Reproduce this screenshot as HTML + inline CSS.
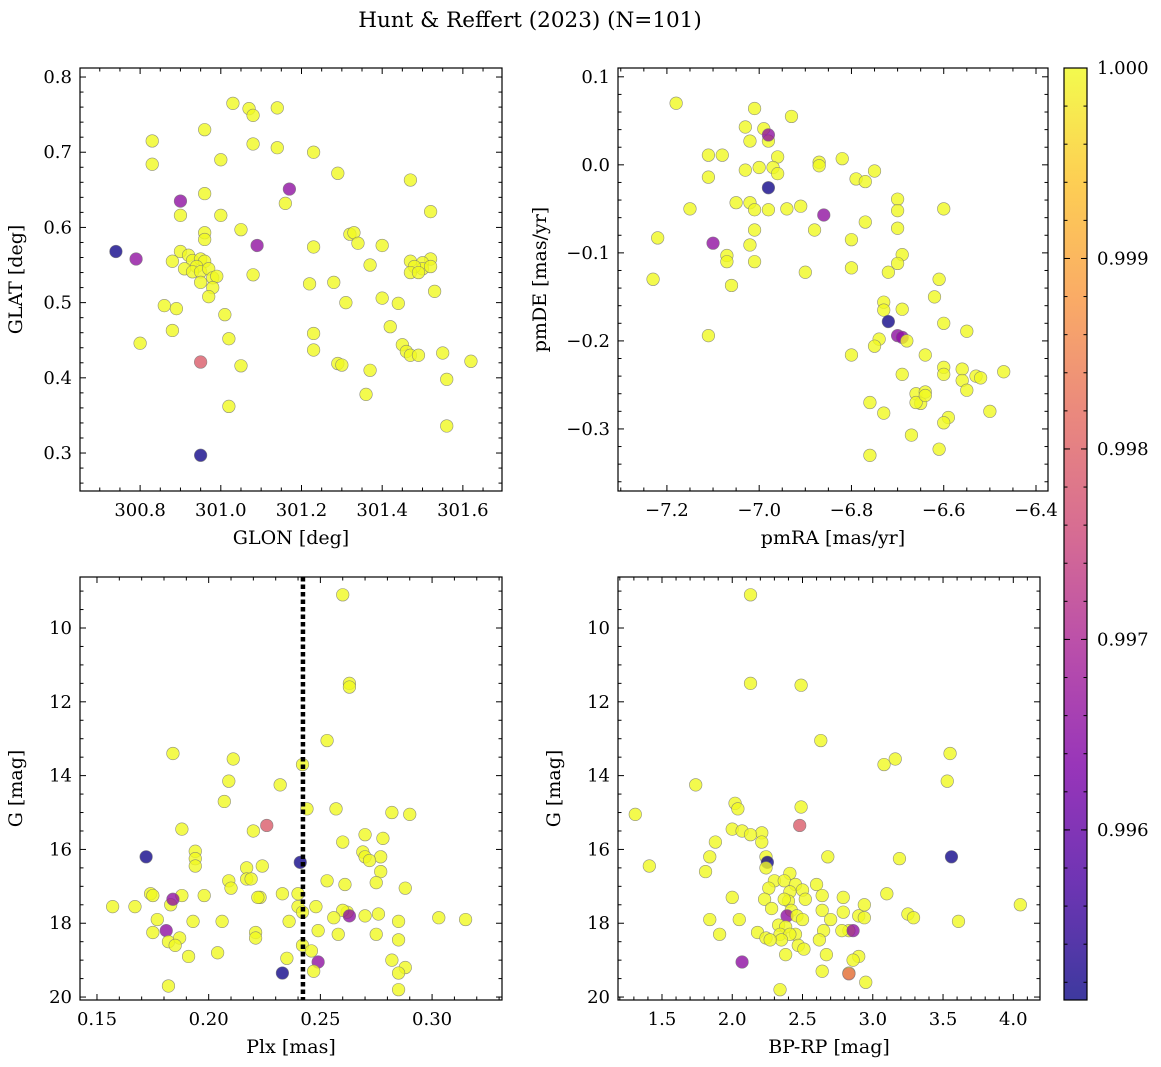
<!DOCTYPE html>
<html><head><meta charset="utf-8"><style>
body{margin:0;background:#fff;}
svg{display:block;font-family:"DejaVu Serif","Liberation Serif",serif;}
</style></head><body>
<svg id="fig" width="1161" height="1067" viewBox="0 0 1161 1067" xmlns="http://www.w3.org/2000/svg">
<text x="530" y="27" text-anchor="middle" font-size="21.5">Hunt &amp; Reffert (2023) (N=101)</text>
<defs><linearGradient id="cmap" x1="0" y1="1" x2="0" y2="0">
<stop offset="0" stop-color="#0d0887"/><stop offset="0.13" stop-color="#4c02a1"/><stop offset="0.25" stop-color="#7e03a8"/><stop offset="0.38" stop-color="#a92395"/><stop offset="0.5" stop-color="#cc4778"/><stop offset="0.63" stop-color="#e56b5d"/><stop offset="0.75" stop-color="#f89540"/><stop offset="0.88" stop-color="#fdc328"/><stop offset="1" stop-color="#f0f921"/></linearGradient></defs>
</svg>
<script>
// ---- data ----
const glon=[301.03,301.07,301.08,301.14,300.96,300.83,301.08,301.14,301.23,301.0,300.83,301.29,301.47,301.17,300.96,300.90,301.16,301.52,300.90,301.0,301.05,300.96,300.96,301.32,301.33,301.09,301.34,301.40,301.23,300.74,300.79,300.90,300.92,300.93,300.95,300.96,300.94,300.91,300.93,300.95,300.97,300.98,300.99,300.95,300.88,300.98,301.52,301.50,301.50,301.47,301.48,301.47,301.49,301.52,301.53,301.22,301.28,301.08,301.37,300.86,300.89,300.97,301.31,301.40,301.44,301.01,301.42,300.88,301.02,301.23,301.23,300.80,301.45,301.46,301.47,301.49,301.55,301.62,300.95,301.05,301.29,301.30,301.37,301.56,301.36,301.02,301.56,300.95];
const glat=[0.765,0.758,0.749,0.759,0.73,0.715,0.711,0.706,0.70,0.69,0.684,0.672,0.663,0.651,0.645,0.635,0.632,0.621,0.616,0.616,0.597,0.593,0.584,0.591,0.593,0.576,0.579,0.576,0.574,0.568,0.558,0.568,0.563,0.556,0.558,0.555,0.548,0.545,0.541,0.541,0.545,0.533,0.535,0.527,0.555,0.52,0.558,0.553,0.545,0.555,0.548,0.540,0.54,0.548,0.515,0.525,0.527,0.537,0.55,0.496,0.492,0.508,0.50,0.506,0.499,0.484,0.468,0.463,0.452,0.459,0.437,0.446,0.444,0.435,0.43,0.43,0.433,0.422,0.421,0.416,0.419,0.417,0.41,0.398,0.378,0.362,0.336,0.297];
const cTL=[1,1,1,1,1,1,1,1,1,1,1,1,1,0.99658,1,0.99658,1,1,1,1,1,1,1,1,1,0.9966,1,1,1,0.99515,0.9966,1,1,1,1,1,1,1,1,1,1,1,1,1,1,1,1,1,1,1,1,1,1,1,1,1,1,1,1,1,1,1,1,1,1,1,1,1,1,1,1,1,1,1,1,1,1,1,0.9979,1,1,1,1,1,1,1,1,0.99515];
const pmra=[-7.18,-7.01,-6.93,-7.03,-7.02,-6.99,-6.98,-6.98,-7.11,-7.08,-6.96,-6.82,-6.87,-6.87,-7.03,-7.0,-6.97,-6.96,-7.11,-6.75,-6.79,-6.77,-6.98,-7.05,-7.02,-7.15,-7.01,-6.98,-6.94,-6.91,-6.70,-6.70,-6.60,-6.86,-6.77,-7.01,-6.88,-6.70,-7.22,-6.80,-7.02,-7.10,-6.69,-7.07,-7.07,-7.01,-6.80,-6.70,-6.72,-6.90,-7.23,-6.61,-7.06,-6.62,-6.73,-6.73,-6.69,-6.60,-6.55,-7.11,-6.72,-6.70,-6.69,-6.74,-6.75,-6.68,-6.80,-6.64,-6.60,-6.60,-6.69,-6.56,-6.56,-6.53,-6.52,-6.47,-6.66,-6.65,-6.66,-6.64,-6.64,-6.55,-6.50,-6.59,-6.76,-6.73,-6.60,-6.67,-6.61,-6.76];
const pmde=[0.07,0.064,0.055,0.043,0.027,0.041,0.027,0.034,0.011,0.011,0.009,0.007,0.003,-0.001,-0.006,-0.003,-0.003,-0.01,-0.014,-0.007,-0.016,-0.019,-0.026,-0.043,-0.043,-0.05,-0.051,-0.051,-0.05,-0.047,-0.039,-0.052,-0.05,-0.057,-0.065,-0.074,-0.074,-0.072,-0.083,-0.085,-0.091,-0.089,-0.102,-0.103,-0.11,-0.11,-0.117,-0.112,-0.122,-0.122,-0.13,-0.13,-0.137,-0.15,-0.156,-0.165,-0.164,-0.18,-0.189,-0.194,-0.178,-0.194,-0.196,-0.198,-0.206,-0.2,-0.216,-0.216,-0.23,-0.238,-0.238,-0.232,-0.245,-0.24,-0.242,-0.235,-0.26,-0.271,-0.27,-0.258,-0.262,-0.256,-0.28,-0.287,-0.27,-0.282,-0.293,-0.307,-0.323,-0.33];
const cTR=[1,1,1,1,1,1,1,0.9966,1,1,1,1,1,1,1,1,1,1,1,1,1,1,0.99515,1,1,1,1,1,1,1,1,1,1,0.9966,1,1,1,1,1,1,1,0.9966,1,1,1,1,1,1,1,1,1,1,1,1,1,1,1,1,1,1,0.99515,0.99655,0.99658,1,1,1,1,1,1,1,1,1,1,1,1,1,1,1,1,1,1,1,1,1,1,1,1,1,1,1];
const plx=[0.26,0.263,0.263,0.253,0.184,0.211,0.242,0.232,0.209,0.207,0.257,0.244,0.282,0.29,0.188,0.22,0.226,0.27,0.278,0.26,0.194,0.194,0.194,0.172,0.269,0.277,0.241,0.27,0.272,0.224,0.217,0.217,0.219,0.209,0.253,0.21,0.277,0.275,0.261,0.288,0.174,0.175,0.188,0.198,0.223,0.222,0.233,0.24,0.167,0.157,0.183,0.24,0.242,0.248,0.262,0.26,0.263,0.276,0.27,0.177,0.193,0.206,0.236,0.256,0.285,0.303,0.315,0.184,0.181,0.221,0.221,0.175,0.182,0.187,0.185,0.249,0.258,0.275,0.285,0.242,0.246,0.204,0.191,0.235,0.282,0.288,0.249,0.247,0.285,0.233,0.182,0.285];
const gmag=[9.1,11.5,11.6,13.05,13.4,13.55,13.7,14.25,14.15,14.7,14.9,14.9,15.0,15.05,15.45,15.5,15.35,15.6,15.7,15.8,16.05,16.25,16.45,16.2,16.07,16.2,16.35,16.2,16.3,16.45,16.5,16.8,16.8,16.85,16.85,17.05,16.6,16.9,16.95,17.05,17.2,17.25,17.25,17.25,17.3,17.3,17.2,17.2,17.55,17.55,17.5,17.55,17.7,17.55,17.7,17.65,17.8,17.75,17.8,17.9,17.95,17.95,17.95,17.85,17.95,17.85,17.9,17.35,18.2,18.25,18.4,18.25,18.5,18.4,18.6,18.2,18.3,18.3,18.45,18.6,18.75,18.8,18.9,18.95,19.0,19.2,19.05,19.3,19.35,19.35,19.7,19.8];
const cBL=[1,1,1,1,1,1,1,1,1,1,1,1,1,1,1,1,0.9979,1,1,1,1,1,1,0.99515,1,1,0.99515,1,1,1,1,1,1,1,1,1,1,1,1,1,1,1,1,1,1,1,1,1,1,1,1,1,1,1,1,1,0.99658,1,1,1,1,1,1,1,1,1,1,0.9966,0.99655,1,1,1,1,1,1,1,1,1,1,1,1,1,1,1,1,1,0.99658,1,1,0.99515,1,1];
const bprp=[2.13,2.13,2.49,2.63,3.55,3.16,3.08,1.74,3.53,1.31,2.02,2.04,2.49,2.48,2.0,2.07,2.21,2.13,1.88,2.21,1.41,1.84,2.24,2.68,3.19,3.56,2.25,1.81,2.24,2.41,2.3,2.37,2.26,2.45,2.6,3.1,2.0,2.41,2.5,2.64,2.52,2.4,2.23,2.37,4.05,2.64,2.79,2.28,2.42,2.79,2.94,1.84,2.9,2.94,3.25,3.29,3.61,2.39,2.46,2.5,2.05,2.7,2.33,2.38,2.83,2.78,2.86,2.18,1.91,2.65,2.62,2.45,2.34,2.41,2.24,2.35,2.27,2.47,2.51,2.67,2.38,2.07,2.9,2.86,2.64,2.83,2.83,2.95,2.34];
const gmag2=[9.1,11.5,11.55,13.05,13.4,13.55,13.7,14.25,14.15,15.05,14.75,14.9,14.85,15.35,15.45,15.5,15.55,15.6,15.8,15.8,16.45,16.2,16.2,16.2,16.25,16.2,16.35,16.6,16.5,16.65,16.85,16.85,17.05,16.95,16.95,17.2,17.3,17.15,17.1,17.25,17.35,17.4,17.35,17.35,17.5,17.65,17.7,17.6,17.65,17.3,17.5,17.9,17.8,17.85,17.75,17.85,17.95,17.8,17.8,17.9,17.9,17.9,18.05,18.1,18.2,18.2,18.2,18.25,18.3,18.2,18.45,18.3,18.3,18.3,18.4,18.45,18.45,18.6,18.7,18.85,18.85,19.05,18.9,19.0,19.3,19.35,19.37,19.6,19.8];
const cBR=[1,1,1,1,1,1,1,1,1,1,1,1,1,0.9979,1,1,1,1,1,1,1,1,1,1,1,0.99515,0.99515,1,1,1,1,1,1,1,1,1,1,1,1,1,1,1,1,1,1,1,1,1,1,1,1,1,1,1,1,1,1,0.99658,1,1,1,1,1,1,1,1,0.9966,1,1,1,1,1,1,1,1,1,1,1,1,1,1,0.99655,1,1,1,1,0.9982,1,1];
const plxLine=[0.2422];
const cbTicks=[0.996,0.997,0.998,0.999,1.000];

const NS="http://www.w3.org/2000/svg";
const svg=document.getElementById('fig');
function mk(tag,attrs,parent){const e=document.createElementNS(NS,tag);for(const k in attrs)e.setAttribute(k,attrs[k]);(parent||svg).appendChild(e);return e;}
const VMIN=0.995107,VMAX=1.0;
const stops=[[0,[13,8,135]],[0.13,[76,2,161]],[0.25,[126,3,168]],[0.38,[169,35,149]],[0.5,[204,71,120]],[0.63,[229,107,93]],[0.75,[248,149,64]],[0.88,[253,195,40]],[1,[240,249,33]]];
function cmap(v){let t=Math.max(0,Math.min(1,(v-VMIN)/(VMAX-VMIN)));for(let i=1;i<stops.length;i++){if(t<=stops[i][0]){const a=stops[i-1],b=stops[i];const f=(t-a[0])/(b[0]-a[0]);const c=a[1].map((x,j)=>Math.round(x+(b[1][j]-x)*f));return`rgb(${c})`;}}return'rgb(240,249,33)';}

function panel(o){
  const g=mk('g',{});
  
  
  const sx=v=>o.x0+(v-o.xr[0])/(o.xr[1]-o.xr[0])*(o.x1-o.x0);
  const sy=v=>o.y1-(v-o.yr[0])/(o.yr[1]-o.yr[0])*(o.y1-o.y0);
  for(let i=0;i<o.xs.length;i++){
    const c=mk('circle',{cx:sx(o.xs[i]),cy:sy(o.ys[i]),r:6.3,fill:cmap(o.cs[i]),'fill-opacity':0.8,stroke:'#777','stroke-width':0.6,'stroke-opacity':0.8},g);
    
    
  }
  if(o.vline){for(const v of o.vline){const l=mk('line',{x1:sx(v),x2:sx(v),y1:o.y0,y2:o.y1,stroke:'#000','stroke-width':4.5,'stroke-dasharray':'4.5 3'},g);
    
    }}
  const tk=(ax,step,minor,fmt)=>{
    const r=ax==='x'?o.xr:o.yr;const lo=Math.min(...r),hi=Math.max(...r);
    for(let k=Math.ceil(lo/minor-1e-6);k*minor<=hi+1e-9;k++){
      const v=k*minor;const isMaj=Math.abs(v/step-Math.round(v/step))<1e-6;const L=isMaj?6:3.5;
      if(ax==='x'){const p=sx(v);mk('line',{x1:p,x2:p,y1:o.y1,y2:o.y1-L,stroke:'#000','stroke-width':1},g);mk('line',{x1:p,x2:p,y1:o.y0,y2:o.y0+L,stroke:'#000','stroke-width':1},g);
        if(isMaj){const t=mk('text',{x:p,y:o.y1+25,'text-anchor':'middle','font-size':18},g);t.textContent=fmt(v);}}
      else{const p=sy(v);mk('line',{x1:o.x0,x2:o.x0+L,y1:p,y2:p,stroke:'#000','stroke-width':1},g);mk('line',{x1:o.x1,x2:o.x1-L,y1:p,y2:p,stroke:'#000','stroke-width':1},g);
        if(isMaj){const t=mk('text',{x:o.x0-8,y:p+6,'text-anchor':'end','font-size':18},g);t.textContent=fmt(v);}}
    }};
  tk('x',o.xt[0],o.xt[1],o.xf);tk('y',o.yt[0],o.yt[1],o.yf);
  const b=mk('rect',{x:o.x0,y:o.y0,width:o.x1-o.x0,height:o.y1-o.y0,fill:'none',stroke:'#000','stroke-width':1.2},g);
  
  const xl=mk('text',{x:(o.x0+o.x1)/2,y:o.y1+53,'text-anchor':'middle','font-size':19},g);xl.textContent=o.xl;
  
  const yc=(o.y0+o.y1)/2,yx=o.x0-o.ylo;
  const yl=mk('text',{x:yx,y:yc,'text-anchor':'middle','font-size':19,transform:`rotate(-90 ${yx} ${yc})`},g);yl.textContent=o.yl;
  
}
const mf=v=>(v<0?'\u2212':'')+Math.abs(v).toFixed(1);
panel({name:'glon-glat-panel',x0:80,x1:502,y0:68,y1:491,xr:[300.651,301.697],yr:[0.2495,0.812],xs:glon,ys:glat,cs:cTL,xt:[0.2,0.05],yt:[0.1,0.02],xf:v=>v.toFixed(1),yf:v=>v.toFixed(1),xl:'GLON [deg]',yl:'GLAT [deg]',ylo:58});
panel({name:'pm-panel',x0:618,x1:1048,y0:68,y1:491,xr:[-7.306,-6.374],yr:[-0.3705,0.110],xs:pmra,ys:pmde,cs:cTR,xt:[0.2,0.05],yt:[0.1,0.02],xf:v=>mf(+v.toFixed(1)),yf:v=>mf(+v.toFixed(1)),xl:'pmRA [mas/yr]',yl:'pmDE [mas/yr]',ylo:72});
panel({name:'plx-g-panel',x0:80,x1:502,y0:577,y1:1000,xr:[0.1424,0.3313],yr:[20.08,8.618],xs:plx,ys:gmag,cs:cBL,xt:[0.05,0.01],yt:[2,0.5],xf:v=>v.toFixed(2),yf:v=>String(Math.round(v)),xl:'Plx [mas]',yl:'G [mag]',ylo:58,vline:plxLine});
panel({name:'color-g-panel',x0:618,x1:1040,y0:577,y1:1000,xr:[1.187,4.19],yr:[20.08,8.618],xs:bprp,ys:gmag2,cs:cBR,xt:[0.5,0.1],yt:[2,0.5],xf:v=>v.toFixed(1),yf:v=>String(Math.round(v)),xl:'BP-RP [mag]',yl:'G [mag]',ylo:58});
// colorbar
const cb=mk('g',{});


const CX0=1064,CX1=1087,CY0=68,CY1=1000;
const cby=v=>CY1-(v-VMIN)/(VMAX-VMIN)*(CY1-CY0);
mk('rect',{x:CX0,y:CY0,width:CX1-CX0,height:CY1-CY0,fill:'url(#cmap)','fill-opacity':0.8},cb);
mk('rect',{x:CX0,y:CY0,width:CX1-CX0,height:CY1-CY0,fill:'none',stroke:'#000','stroke-width':1.2},cb);
for(let k=Math.ceil(VMIN/0.0002);k*0.0002<=VMAX+1e-12;k++){const p=cby(k*0.0002);mk('line',{x1:CX1,x2:CX1-3.5,y1:p,y2:p,stroke:'#000','stroke-width':1},cb);mk('line',{x1:CX0,x2:CX0+3.5,y1:p,y2:p,stroke:'#000','stroke-width':1},cb);}
for(const v of cbTicks){const p=cby(v);mk('line',{x1:CX1,x2:CX1-6,y1:p,y2:p,stroke:'#000','stroke-width':1},cb);mk('line',{x1:CX0,x2:CX0+6,y1:p,y2:p,stroke:'#000','stroke-width':1},cb);
  const t=mk('text',{x:CX1+10,y:p+6,'font-size':18},cb);t.textContent=v.toFixed(3);
  
  }
</script>
</body></html>
